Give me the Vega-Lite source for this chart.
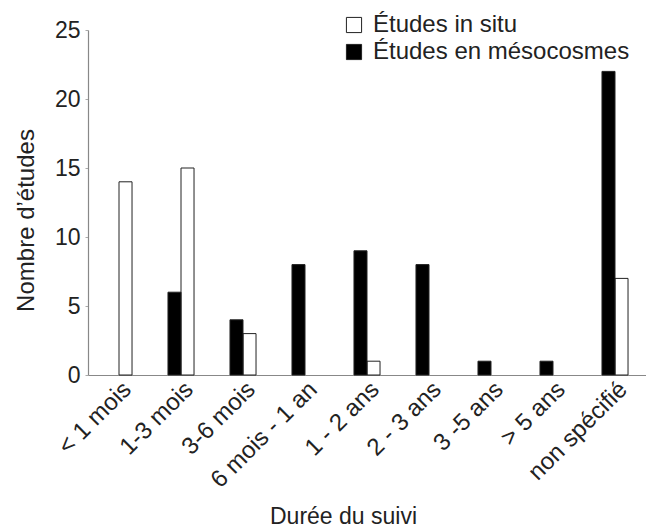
{
  "$schema": "https://vega.github.io/schema/vega-lite/v6.json",
  "autosize": "none",
  "width": 558,
  "height": 345,
  "padding": {"left": 88, "top": 30, "right": 0, "bottom": 157},
  "background": "white",
  "config": {
    "font": "Liberation Sans",
    "view": {"stroke": null}
  },
  "data": {
    "values": [
      {"duree": "< 1 mois", "type": "Études in situ", "n": 14},
      {"duree": "1-3 mois", "type": "Études in situ", "n": 15},
      {"duree": "1-3 mois", "type": "Études en mésocosmes", "n": 6},
      {"duree": "3-6 mois", "type": "Études in situ", "n": 3},
      {"duree": "3-6 mois", "type": "Études en mésocosmes", "n": 4},
      {"duree": "6 mois - 1 an", "type": "Études en mésocosmes", "n": 8},
      {"duree": "1 - 2 ans", "type": "Études in situ", "n": 1},
      {"duree": "1 - 2 ans", "type": "Études en mésocosmes", "n": 9},
      {"duree": "2 - 3 ans", "type": "Études en mésocosmes", "n": 8},
      {"duree": "3 -5 ans", "type": "Études en mésocosmes", "n": 1},
      {"duree": "> 5 ans", "type": "Études en mésocosmes", "n": 1},
      {"duree": "non spécifié", "type": "Études in situ", "n": 7},
      {"duree": "non spécifié", "type": "Études en mésocosmes", "n": 22}
    ]
  },
  "mark": {"type": "bar", "stroke": "#222", "strokeWidth": 1},
  "encoding": {
    "x": {
      "field": "duree",
      "type": "nominal",
      "sort": ["< 1 mois", "1-3 mois", "3-6 mois", "6 mois - 1 an", "1 - 2 ans", "2 - 3 ans", "3 -5 ans", "> 5 ans", "non spécifié"],
      "scale": {"paddingInner": 0.58, "paddingOuter": 0.29},
      "axis": {
        "title": "Durée du suivi",
        "titleFontSize": 23,
        "titleFontWeight": "normal",
        "titleColor": "#222",
        "titleX": 255,
        "titleY": 148,
        "titleAlign": "center",
        "titleBaseline": "alphabetic",
        "labelAngle": -45,
        "labelFontSize": 24,
        "labelColor": "#222",
        "labelPadding": 2,
        "labelLimit": 220,
        "ticks": false,
        "domainColor": "#888",
        "domainWidth": 1.2
      }
    },
    "xOffset": {
      "field": "type",
      "type": "nominal",
      "sort": ["Études en mésocosmes", "Études in situ"],
      "scale": {"paddingInner": 0}
    },
    "y": {
      "field": "n",
      "type": "quantitative",
      "scale": {"domain": [0, 25], "nice": false},
      "axis": {
        "title": "Nombre d’études",
        "titleFontSize": 24,
        "titleFontWeight": "normal",
        "titleColor": "#222",
        "titleX": -55,
        "titleY": 190,
        "titleAngle": -90,
        "titleAlign": "center",
        "titleBaseline": "alphabetic",
        "values": [0, 5, 10, 15, 20, 25],
        "labelFontSize": 23,
        "labelColor": "#222",
        "tickSize": 3,
        "tickColor": "#aaa",
        "labelPadding": 5,
        "grid": false,
        "domainColor": "#888",
        "domainWidth": 1.2
      }
    },
    "color": {
      "field": "type",
      "type": "nominal",
      "scale": {
        "domain": ["Études in situ", "Études en mésocosmes"],
        "range": ["white", "black"]
      },
      "legend": {
        "title": null,
        "orient": "none",
        "legendX": 254,
        "legendY": -17,
        "symbolType": "square",
        "symbolSize": 230,
        "symbolStrokeColor": "#222",
        "symbolStrokeWidth": 1,
        "labelFontSize": 24,
        "labelColor": "#222",
        "labelLimit": 320,
        "rowPadding": 3,
        "labelOffset": 7
      }
    }
  }
}
